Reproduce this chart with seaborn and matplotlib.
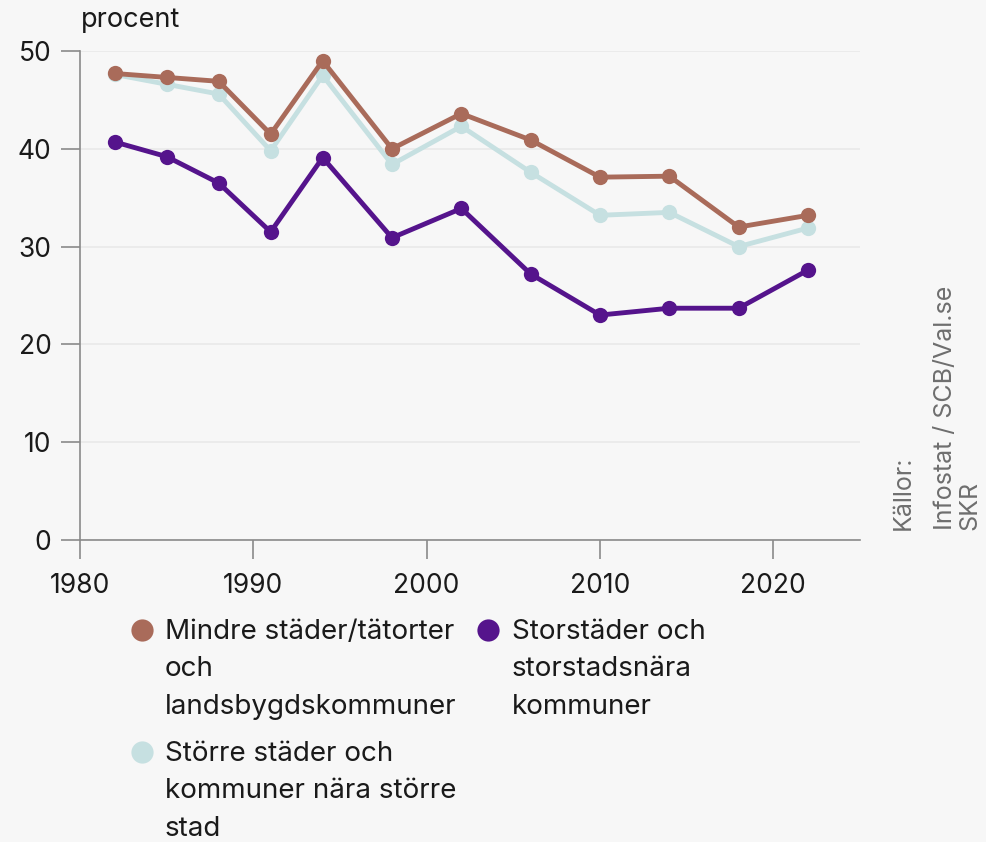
import matplotlib
matplotlib.use("Agg")
import matplotlib.pyplot as plt
import seaborn as sns
import pandas as pd
from matplotlib.lines import Line2D

years = [1982, 1985, 1988, 1991, 1994, 1998, 2002, 2006, 2010, 2014, 2018, 2022]
mindre = [47.7, 47.3, 46.9, 41.5, 49.0, 40.0, 43.6, 40.9, 37.1, 37.2, 32.0, 33.2]
storre = [47.6, 46.6, 45.6, 39.8, 47.5, 38.4, 42.3, 37.6, 33.2, 33.5, 30.0, 31.9]
storstad = [40.7, 39.2, 36.5, 31.5, 39.1, 30.9, 33.9, 27.2, 23.0, 23.7, 23.7, 27.6]

names = ["Mindre städer/tätorter och landsbygdskommuner",
         "Större städer och kommuner nära större stad",
         "Storstäder och storstadsnära kommuner"]
legend_labels = ["Mindre städer/tätorter\noch\nlandsbygdskommuner",
                 "Större städer och\nkommuner nära större\nstad",
                 "Storstäder och\nstorstadsnära\nkommuner"]
colors = ["#a96b5a", "#c6e0e1", "#55148c"]
yticks = [0, 10, 20, 30, 40, 50]
xticks = [1980, 1990, 2000, 2010, 2020]

df = pd.DataFrame({
    "year": years * 3,
    "value": mindre + storre + storstad,
    "group": [names[0]] * len(years) + [names[1]] * len(years) + [names[2]] * len(years),
})

sns.set_theme(style="white")
plt.rcParams["font.family"] = ["Inter", "DejaVu Sans"]
bg = "#f7f7f7"
txt = "#1a1a1a"
W, H = 987, 842
fig = plt.figure(figsize=(W / 100, H / 100), dpi=100, facecolor=bg)
ax = fig.add_axes([80 / W, 1 - 540 / H, 780 / W, 489 / H])
ax.set_facecolor(bg)

palette = dict(zip(names, colors))
sns.lineplot(data=df, x="year", y="value", hue="group", hue_order=[names[1], names[0], names[2]],
             palette=palette, marker="o", markersize=11, markeredgewidth=0,
             linewidth=3.5, legend=False, ax=ax)

ax.set_xlim(1980, 2025)
ax.set_ylim(0, 50)
ax.set_xticks(xticks)
ax.set_yticks(yticks)
ax.set_xlabel("")
ax.set_ylabel("")
ax.grid(axis="y", color="#e9e9e9", linewidth=1.2)
ax.set_axisbelow(True)
for s in ["top", "right"]:
    ax.spines[s].set_visible(False)
for s in ["left", "bottom"]:
    ax.spines[s].set_color("#8a8a8a")
    ax.spines[s].set_linewidth(1.2)
ax.tick_params(axis="both", which="major", length=13.5, width=1.2, color="#8a8a8a",
               labelsize=19, labelcolor=txt, left=True, bottom=True)
ax.tick_params(axis="x", pad=10)
ax.tick_params(axis="y", pad=7)

fig.text(81 / W, 1 - 20 / H, "procent", fontsize=19.5, color=txt, va="center", ha="left")

fig.text(903 / W, 1 - 530 / H, "Källor:", rotation=90,
         fontsize=18, color="#6e6e6e", ha="center", va="bottom")
fig.text(958 / W, 1 - 530 / H, "Infostat / SCB/Val.se\nSKR", rotation=90,
         fontsize=18, color="#6e6e6e", ha="center", va="bottom", linespacing=1.1,
         multialignment="left")

# legend (manual, marker aligned with first text line)
entries = [(0, 142, 165, 630), (1, 142, 165, 752), (2, 488, 512, 630)]
for i, mx, tx, ty in entries:
    fig.add_artist(Line2D([mx / W], [1 - ty / H], marker="o", linestyle="",
                          markersize=16, markeredgewidth=0, color=colors[i],
                          transform=fig.transFigure))
    fig.text(tx / W, 1 - (ty - 11) / H, legend_labels[i], fontsize=20, color=txt,
             ha="left", va="top", linespacing=1.57)

fig.savefig("out.png", dpi=100, facecolor=bg)
